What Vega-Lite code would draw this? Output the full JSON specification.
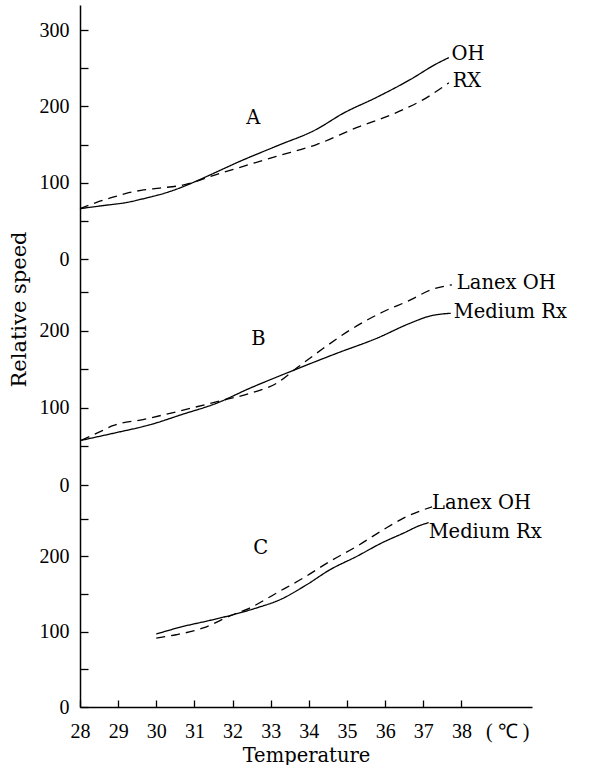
{
  "$schema": "https://vega.github.io/schema/vega-lite/v6.json",
  "background": "white",
  "padding": {"left": 8, "top": 5, "right": 5, "bottom": 2},
  "spacing": 0,
  "bounds": "flush",
  "datasets": {
    "curves": [
      {"panel": "A", "series": "OH", "temp": 28.0, "speed": 66},
      {"panel": "A", "series": "OH", "temp": 28.6, "speed": 70},
      {"panel": "A", "series": "OH", "temp": 29.21, "speed": 74},
      {"panel": "A", "series": "OH", "temp": 29.74, "speed": 80},
      {"panel": "A", "series": "OH", "temp": 30.2, "speed": 86},
      {"panel": "A", "series": "OH", "temp": 30.61, "speed": 93},
      {"panel": "A", "series": "OH", "temp": 31.0, "speed": 101},
      {"panel": "A", "series": "OH", "temp": 31.4, "speed": 110},
      {"panel": "A", "series": "OH", "temp": 32.19, "speed": 128},
      {"panel": "A", "series": "OH", "temp": 33.15, "speed": 148},
      {"panel": "A", "series": "OH", "temp": 34.2, "speed": 170},
      {"panel": "A", "series": "OH", "temp": 34.9, "speed": 191},
      {"panel": "A", "series": "OH", "temp": 35.78, "speed": 212},
      {"panel": "A", "series": "OH", "temp": 36.65, "speed": 235},
      {"panel": "A", "series": "OH", "temp": 37.35, "speed": 256},
      {"panel": "A", "series": "OH", "temp": 37.67, "speed": 264},
      {"panel": "A", "series": "RX", "temp": 28.0, "speed": 66},
      {"panel": "A", "series": "RX", "temp": 28.42, "speed": 74},
      {"panel": "A", "series": "RX", "temp": 28.8, "speed": 80},
      {"panel": "A", "series": "RX", "temp": 29.21, "speed": 86},
      {"panel": "A", "series": "RX", "temp": 29.6, "speed": 90},
      {"panel": "A", "series": "RX", "temp": 30.09, "speed": 93},
      {"panel": "A", "series": "RX", "temp": 30.7, "speed": 97},
      {"panel": "A", "series": "RX", "temp": 31.0, "speed": 101},
      {"panel": "A", "series": "RX", "temp": 31.4, "speed": 108},
      {"panel": "A", "series": "RX", "temp": 32.28, "speed": 121.5},
      {"panel": "A", "series": "RX", "temp": 33.15, "speed": 134.6},
      {"panel": "A", "series": "RX", "temp": 34.2, "speed": 150},
      {"panel": "A", "series": "RX", "temp": 35.34, "speed": 174},
      {"panel": "A", "series": "RX", "temp": 35.9, "speed": 184},
      {"panel": "A", "series": "RX", "temp": 36.48, "speed": 196},
      {"panel": "A", "series": "RX", "temp": 37.0, "speed": 209},
      {"panel": "A", "series": "RX", "temp": 37.67, "speed": 231},
      {"panel": "B", "series": "Medium Rx", "temp": 28.03, "speed": 58},
      {"panel": "B", "series": "Medium Rx", "temp": 28.95, "speed": 68},
      {"panel": "B", "series": "Medium Rx", "temp": 29.82, "speed": 78},
      {"panel": "B", "series": "Medium Rx", "temp": 30.7, "speed": 92},
      {"panel": "B", "series": "Medium Rx", "temp": 31.57, "speed": 106},
      {"panel": "B", "series": "Medium Rx", "temp": 32.45, "speed": 125.6},
      {"panel": "B", "series": "Medium Rx", "temp": 33.5, "speed": 147},
      {"panel": "B", "series": "Medium Rx", "temp": 34.73, "speed": 171},
      {"panel": "B", "series": "Medium Rx", "temp": 35.78, "speed": 190.5},
      {"panel": "B", "series": "Medium Rx", "temp": 36.65, "speed": 210},
      {"panel": "B", "series": "Medium Rx", "temp": 37.18, "speed": 219.5},
      {"panel": "B", "series": "Medium Rx", "temp": 37.72, "speed": 223},
      {"panel": "B", "series": "Lanex OH", "temp": 28.03, "speed": 58},
      {"panel": "B", "series": "Lanex OH", "temp": 28.6, "speed": 71},
      {"panel": "B", "series": "Lanex OH", "temp": 28.86, "speed": 77},
      {"panel": "B", "series": "Lanex OH", "temp": 29.65, "speed": 85},
      {"panel": "B", "series": "Lanex OH", "temp": 30.52, "speed": 95},
      {"panel": "B", "series": "Lanex OH", "temp": 31.57, "speed": 108},
      {"panel": "B", "series": "Lanex OH", "temp": 32.45, "speed": 119},
      {"panel": "B", "series": "Lanex OH", "temp": 33.15, "speed": 132},
      {"panel": "B", "series": "Lanex OH", "temp": 33.67, "speed": 151.5},
      {"panel": "B", "series": "Lanex OH", "temp": 34.38, "speed": 177.5},
      {"panel": "B", "series": "Lanex OH", "temp": 35.07, "speed": 201},
      {"panel": "B", "series": "Lanex OH", "temp": 35.95, "speed": 225},
      {"panel": "B", "series": "Lanex OH", "temp": 36.65, "speed": 240},
      {"panel": "B", "series": "Lanex OH", "temp": 37.18, "speed": 253},
      {"panel": "B", "series": "Lanex OH", "temp": 37.75, "speed": 260},
      {"panel": "C", "series": "Medium Rx", "temp": 30.0, "speed": 97},
      {"panel": "C", "series": "Medium Rx", "temp": 30.7, "speed": 107},
      {"panel": "C", "series": "Medium Rx", "temp": 31.4, "speed": 115},
      {"panel": "C", "series": "Medium Rx", "temp": 32.01, "speed": 122.6},
      {"panel": "C", "series": "Medium Rx", "temp": 32.62, "speed": 131.5},
      {"panel": "C", "series": "Medium Rx", "temp": 33.24, "speed": 142.5},
      {"panel": "C", "series": "Medium Rx", "temp": 33.94, "speed": 162.4},
      {"panel": "C", "series": "Medium Rx", "temp": 34.55, "speed": 182.3},
      {"panel": "C", "series": "Medium Rx", "temp": 35.25, "speed": 200},
      {"panel": "C", "series": "Medium Rx", "temp": 35.95, "speed": 219},
      {"panel": "C", "series": "Medium Rx", "temp": 36.48, "speed": 231},
      {"panel": "C", "series": "Medium Rx", "temp": 36.9, "speed": 241},
      {"panel": "C", "series": "Medium Rx", "temp": 37.14, "speed": 245},
      {"panel": "C", "series": "Lanex OH", "temp": 30.0, "speed": 91.6},
      {"panel": "C", "series": "Lanex OH", "temp": 30.52, "speed": 96},
      {"panel": "C", "series": "Lanex OH", "temp": 31.23, "speed": 105},
      {"panel": "C", "series": "Lanex OH", "temp": 31.93, "speed": 121},
      {"panel": "C", "series": "Lanex OH", "temp": 32.45, "speed": 131.5},
      {"panel": "C", "series": "Lanex OH", "temp": 33.15, "speed": 151.4},
      {"panel": "C", "series": "Lanex OH", "temp": 33.85, "speed": 171.3},
      {"panel": "C", "series": "Lanex OH", "temp": 34.55, "speed": 193.4},
      {"panel": "C", "series": "Lanex OH", "temp": 35.25, "speed": 213.3},
      {"panel": "C", "series": "Lanex OH", "temp": 35.95, "speed": 235.5},
      {"panel": "C", "series": "Lanex OH", "temp": 36.56, "speed": 253},
      {"panel": "C", "series": "Lanex OH", "temp": 37.23, "speed": 266}
    ],
    "labels": [
      {"panel": "A", "temp": 37.74, "speed": 269, "text": "OH"},
      {"panel": "A", "temp": 37.77, "speed": 233, "text": "RX"},
      {"panel": "A", "temp": 32.36, "speed": 185, "text": "A"},
      {"panel": "B", "temp": 37.88, "speed": 262, "text": "Lanex OH"},
      {"panel": "B", "temp": 37.8, "speed": 225, "text": "Medium Rx"},
      {"panel": "B", "temp": 32.49, "speed": 190, "text": "B"},
      {"panel": "C", "temp": 37.23, "speed": 271, "text": "Lanex OH"},
      {"panel": "C", "temp": 37.14, "speed": 233, "text": "Medium Rx"},
      {"panel": "C", "temp": 32.54, "speed": 211, "text": "C"}
    ]
  },
  "vconcat": [
    {
      "width": 452, "height": 254,
      "layer": [
        {
          "data": {"name": "curves"},
          "transform": [{"filter": "datum.panel == 'A'"}],
          "mark": {"type": "line", "interpolate": "monotone", "color": "black", "strokeWidth": 1.3},
          "encoding": {
            "x": {"field": "temp", "type": "quantitative", "scale": {"domain": [28, 39.85], "nice": false, "zero": false}, "axis": null},
            "y": {"field": "speed", "type": "quantitative", "scale": {"domain": [0, 333], "nice": false},
                  "axis": {"title": null, "values": [0, 50, 100, 150, 200, 250, 300], "labelExpr": "datum.value % 100 == 0 ? datum.label : ''"}},
            "strokeDash": {"field": "series", "type": "nominal", "scale": {"domain": ["OH", "RX", "Medium Rx", "Lanex OH"], "range": [[1, 0], [9, 6], [1, 0], [9, 6]]}, "legend": null},
            "detail": {"field": "series"}
          }
        },
        {
          "data": {"name": "labels"},
          "transform": [{"filter": "datum.panel == 'A'"}],
          "mark": {"type": "text", "align": "left", "baseline": "middle", "font": "DejaVu Serif", "fontSize": 19.5, "color": "black"},
          "encoding": {
            "x": {"field": "temp", "type": "quantitative"},
            "y": {"field": "speed", "type": "quantitative"},
            "text": {"field": "text"}
          }
        }
      ]
    },
    {
      "width": 452, "height": 226,
      "layer": [
        {
          "data": {"name": "curves"},
          "transform": [{"filter": "datum.panel == 'B'"}],
          "mark": {"type": "line", "interpolate": "monotone", "color": "black", "strokeWidth": 1.3},
          "encoding": {
            "x": {"field": "temp", "type": "quantitative", "scale": {"domain": [28, 39.85], "nice": false, "zero": false}, "axis": null},
            "y": {"field": "speed", "type": "quantitative", "scale": {"domain": [0, 293.5], "nice": false},
                  "axis": {"title": "Relative speed", "values": [0, 50, 100, 150, 200, 250], "labelExpr": "datum.value % 100 == 0 ? datum.label : ''",
                           "titleX": -61, "titleY": 50, "titleBaseline": "middle", "titleAlign": "center", "titleFontSize": 21}},
            "strokeDash": {"field": "series", "type": "nominal", "scale": {"domain": ["OH", "RX", "Medium Rx", "Lanex OH"], "range": [[1, 0], [9, 6], [1, 0], [9, 6]]}, "legend": null},
            "detail": {"field": "series"}
          }
        },
        {
          "data": {"name": "labels"},
          "transform": [{"filter": "datum.panel == 'B'"}],
          "mark": {"type": "text", "align": "left", "baseline": "middle", "font": "DejaVu Serif", "fontSize": 19.5, "color": "black"},
          "encoding": {
            "x": {"field": "temp", "type": "quantitative"},
            "y": {"field": "speed", "type": "quantitative"},
            "text": {"field": "text"}
          }
        }
      ]
    },
    {
      "width": 452, "height": 222,
      "layer": [
        {
          "data": {"name": "curves"},
          "transform": [{"filter": "datum.panel == 'C'"}],
          "mark": {"type": "line", "interpolate": "monotone", "color": "black", "strokeWidth": 1.3},
          "encoding": {
            "x": {"field": "temp", "type": "quantitative", "scale": {"domain": [28, 39.85], "nice": false, "zero": false},
                  "axis": {"title": "Temperature", "values": [28, 29, 30, 31, 32, 33, 34, 35, 36, 37, 38, 39.2],
                           "labelExpr": "datum.value > 38.5 ? '( ℃ )' : datum.label",
                           "labelFlush": false,
                           "tickOpacity": {"condition": {"test": "datum.value > 38.5", "value": 0}, "value": 1},
                           "tickSize": -7, "labelPadding": 21, "titlePadding": 5}},
            "y": {"field": "speed", "type": "quantitative", "scale": {"domain": [0, 295], "nice": false},
                  "axis": {"title": null, "values": [0, 50, 100, 150, 200, 250], "labelExpr": "datum.value % 100 == 0 ? datum.label : ''"}},
            "strokeDash": {"field": "series", "type": "nominal", "scale": {"domain": ["OH", "RX", "Medium Rx", "Lanex OH"], "range": [[1, 0], [9, 6], [1, 0], [9, 6]]}, "legend": null},
            "detail": {"field": "series"}
          }
        },
        {
          "data": {"name": "labels"},
          "transform": [{"filter": "datum.panel == 'C'"}],
          "mark": {"type": "text", "align": "left", "baseline": "middle", "font": "DejaVu Serif", "fontSize": 19.5, "color": "black"},
          "encoding": {
            "x": {"field": "temp", "type": "quantitative"},
            "y": {"field": "speed", "type": "quantitative"},
            "text": {"field": "text"}
          }
        }
      ]
    }
  ],
  "config": {
    "view": {"stroke": null},
    "axis": {
      "grid": false,
      "domainColor": "black", "domainWidth": 1.5,
      "tickColor": "black", "tickWidth": 1.3,
      "labelColor": "black", "labelFont": "Liberation Serif", "labelFontSize": 20,
      "titleColor": "black", "titleFont": "DejaVu Serif", "titleFontSize": 19.5, "titleFontWeight": "normal"
    },
    "axisY": {"tickSize": -8, "labelPadding": 19}
  }
}
